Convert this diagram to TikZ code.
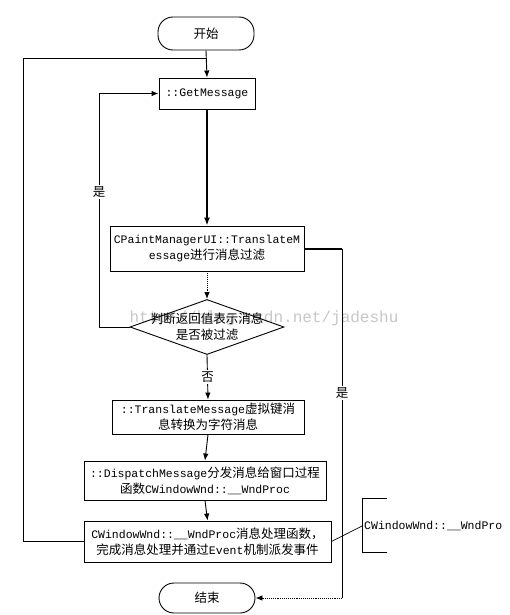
\documentclass[tikz,border=0pt]{standalone}
\usepackage{fontspec}
\setmainfont{Liberation Mono}
\newfontfamily\cjk{Noto Sans CJK SC}
\newcommand{\zh}[1]{{\cjk\fontsize{12.5}{15}\selectfont #1}}
\usetikzlibrary{arrows.meta,shapes.geometric}
\begin{document}
\begin{tikzpicture}[x=1pt,y=-1pt,
  box/.style={draw, line width=0.9pt, inner sep=0pt, align=center, font=\fontsize{11.5}{16}\selectfont},
  term/.style={box, rounded corners=15pt},
  conn/.style={line width=0.9pt},
  bold conn/.style={line width=2pt},
  arr/.style={conn, -{Latex[length=7pt,width=5.5pt]}},
  lbl/.style={fill=white, inner sep=1.5pt, font=\fontsize{12.5}{15}\selectfont\cjk},
  wm/.style={text=black!22, font=\fontsize{16}{18}\selectfont}
]
\useasboundingbox (0,0) rectangle (509,615);
\fill[white] (0,0) rectangle (509,615);

% watermark
\node[wm] (wmark) at (264,318) {http://blog.csdn.net/jadeshu};

% nodes
\node[term, minimum width=96pt, minimum height=33pt] (start) at (206,33.5) {\zh{开始}};
\node[box, minimum width=96pt, minimum height=31pt] (get) at (207,93.5) {::GetMessage};
\node[box, minimum width=194pt, minimum height=45pt] (cpaint) at (207,248.5)
  {CPaintManagerUI::TranslateM\\essage\zh{进行消息过滤}};
\node[draw, diamond, line width=0.9pt, inner sep=0pt, aspect=2.8, minimum width=154pt, minimum height=55pt] (dec) at (207,327) {};
\node[align=center, inner sep=0pt, font=\fontsize{12.5}{16}\selectfont\cjk] (dectext) at (207,327) {判断返回值表示消息\\是否被过滤};
\node[box, minimum width=192pt, minimum height=34pt] (trans) at (208,417)
  {::TranslateMessage\zh{虚拟键消}\\\zh{息转换为字符消息}};
\node[box, minimum width=242pt, minimum height=39pt] (disp) at (205,480.5)
  {::DispatchMessage\zh{分发消息给窗口过程}\\\zh{函数}CWindowWnd::\_\_WndProc};
\node[box, minimum width=247pt, minimum height=41pt] (wnd) at (207.5,541.5)
  {CWindowWnd::\_\_WndProc\zh{消息处理函数，}\\\zh{完成消息处理并通过}Event\zh{机制派发事件}};
\node[term, minimum width=96pt, minimum height=30pt] (end) at (207,598) {\zh{结束}};

% annotation
\node[anchor=west, inner sep=0pt, font=\fontsize{11.5}{14}\selectfont] (note) at (364,526) {CWindowWnd::\_\_WndPro};
\coordinate (bt) at (387,498);
\coordinate (btl) at (362,498);
\coordinate (bbl) at (362,552);
\coordinate (bb) at (387,552);
\coordinate (bm) at (362,526);
\draw[conn] (bt) -- (btl) -- (bbl) -- (bb);
\draw[line width=0.7pt] (wnd.east) -- (bm);

% coordinates for routing
\coordinate (j1) at (206,58);
\coordinate (ol) at (23,58);
\coordinate (olb) at (23,541.5);
\coordinate (il) at (99,327);
\coordinate (ilt) at (99,93.5);
\coordinate (rr) at (342,248.5);
\coordinate (rrb) at (342,598);

% connectors
\draw[arr] (start.south) -- (get.north);
\draw[conn] (wnd.west) -- (olb) -- (ol) -- (j1);
\draw[bold conn, -{Latex[length=8pt,width=6pt]}] (get.south) -- (cpaint.north);
\draw[conn, densely dotted, -{Latex[length=7pt,width=5.5pt]}] (cpaint.south) -- (dec.north);
\draw[arr] (dec.west) -- (il) -- node[lbl, pos=0.58] (yes1) {是} (ilt) -- (get.west);
\draw[arr] (dec.south) -- node[lbl, pos=0.5] (no1) {否} (trans.north);
\draw[bold conn] (cpaint.east) -- (rr);
\draw[conn] (rr) -- node[lbl, pos=0.414] (yes2) {是} (rrb);
\draw[conn, densely dotted, -{Latex[length=7pt,width=5.5pt]}] (rrb) -- (end.east);
\draw[arr] (trans.south) -- (disp.north);
\draw[arr] (disp.south) -- (wnd.north);
\end{tikzpicture}
\end{document}
